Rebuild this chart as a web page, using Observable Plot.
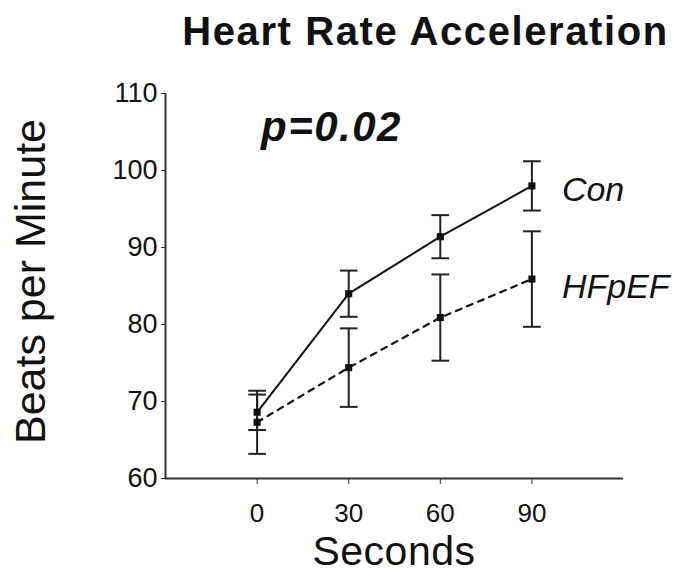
<!DOCTYPE html>
<html>
<head>
<meta charset="utf-8">
<script src="https://cdn.jsdelivr.net/npm/d3@7"></script>
<script src="https://cdn.jsdelivr.net/npm/@observablehq/plot@0.6"></script>
<style>
  html, body { margin: 0; padding: 0; background: #fff; }
  #chart svg { display: block; font-family: "Liberation Sans", Arial, sans-serif; }
</style>
</head>
<body>
<div id="chart"></div>
<script>
// Data
const seconds = [0, 30, 60, 90];
const conMean = [68.6, 84.0, 91.4, 98.0];
const conErr  = [2.3, 3.0, 2.8, 3.2];
const hfMean  = [67.3, 74.4, 80.9, 85.9];
const hfErr   = [4.1, 5.1, 5.6, 6.2];
const seriesNames = ["Con", "HFpEF"];
const xTicks = [0, 30, 60, 90];
const yTicks = [60, 70, 80, 90, 100, 110];
const titleText = "Heart Rate Acceleration";
const yLabel = "Beats per Minute";
const xLabel = "Seconds";
const pText = "p=0.02";

const rows = [];
seconds.forEach((s, i) => {
  rows.push({series: "Con", x: s, y: conMean[i], lo: conMean[i] - conErr[i], hi: conMean[i] + conErr[i]});
  rows.push({series: "HFpEF", x: s, y: hfMean[i], lo: hfMean[i] - hfErr[i], hi: hfMean[i] + hfErr[i]});
});
const con = rows.filter(d => d.series === "Con");
const hf = rows.filter(d => d.series === "HFpEF");
const caps = rows.flatMap(d => [{x: d.x, y: d.lo}, {x: d.x, y: d.hi}]);

const capSymbol = {
  draw(ctx, size) {
    const w = Math.sqrt(size);
    ctx.moveTo(-w, 0);
    ctx.lineTo(w, 0);
  }
};

const seriesLabels = [
  {text: seriesNames[0], x: 90, y: 97.4},
  {text: seriesNames[1], x: 90, y: 84.8}
];

const chart = Plot.plot({
  width: 696,
  height: 580,
  marginLeft: 165,
  marginRight: 73,
  marginTop: 93,
  marginBottom: 102,
  style: {fontFamily: "'Liberation Sans', Arial, sans-serif", color: "#111", background: "#fff"},
  x: {domain: [-30, 120]},
  y: {domain: [60, 110]},
  marks: [
    Plot.axisX({ticks: xTicks, tickSize: 6, tickPadding: 19, fontSize: 26, label: null, stroke: "#333"}),
    Plot.axisY({ticks: yTicks, tickSize: 4, tickPadding: 4, fontSize: 27, label: null, stroke: "#333"}),
    Plot.ruleX([-30], {stroke: "#333", strokeWidth: 2}),
    Plot.ruleY([60], {stroke: "#333", strokeWidth: 2}),
    Plot.ruleX(rows, {x: "x", y1: "lo", y2: "hi", stroke: "#222", strokeWidth: 2}),
    Plot.dot(caps, {x: "x", y: "y", symbol: capSymbol, r: 5, stroke: "#222", strokeWidth: 2, fill: "none"}),
    Plot.line(con, {x: "x", y: "y", stroke: "#111", strokeWidth: 2}),
    Plot.line(hf, {x: "x", y: "y", stroke: "#111", strokeWidth: 2.2, strokeDasharray: "6,6"}),
    Plot.dot(rows, {x: "x", y: "y", symbol: "square", r: 4, fill: "#111"}),
    Plot.text(seriesLabels, {x: "x", y: "y", text: "text", dx: 30, textAnchor: "start", lineAnchor: "middle", fontSize: 34, fontStyle: "italic", fill: "#111"}),
    Plot.text([pText], {frameAnchor: "top-left", dx: 166, dy: 34.5, textAnchor: "middle", lineAnchor: "middle", fontSize: 42, fontWeight: "bold", fontStyle: "italic", fill: "#111", className: "ptext"}),
    Plot.text([titleText], {frameAnchor: "top-left", dx: 260, dy: -61.5, textAnchor: "middle", lineAnchor: "middle", fontSize: 40, fontWeight: "bold", fill: "#111", className: "title"}),
    Plot.text([yLabel], {frameAnchor: "left", dx: -134, dy: -4.5, rotate: -90, textAnchor: "middle", lineAnchor: "middle", fontSize: 43, fill: "#111"}),
    Plot.text([xLabel], {frameAnchor: "bottom-left", dx: 228.5, dy: 73, textAnchor: "middle", lineAnchor: "middle", fontSize: 41, fill: "#111", className: "xlab"})
  ]
});
d3.select(chart).selectAll(".title text").attr("letter-spacing", 1.6);
d3.select(chart).selectAll(".ptext text").attr("letter-spacing", 1.5);
d3.select(chart).selectAll(".xlab text").attr("letter-spacing", 0.5);
document.getElementById("chart").append(chart);
</script>
</body>
</html>
